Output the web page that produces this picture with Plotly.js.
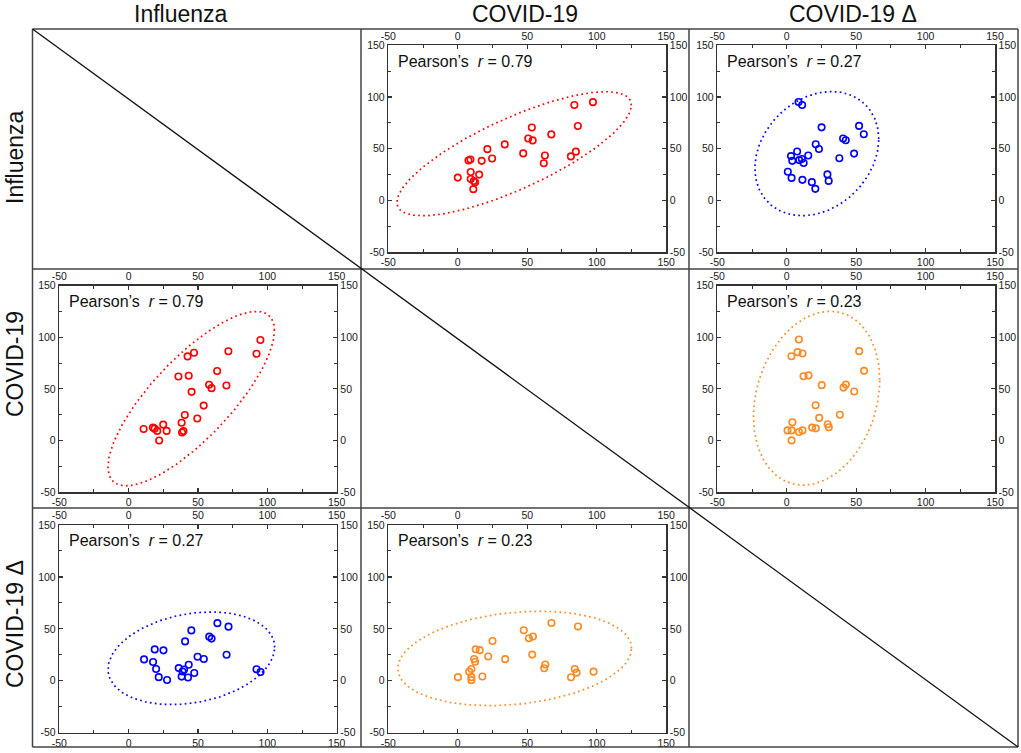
<!DOCTYPE html>
<html><head><meta charset="utf-8">
<script src="https://cdn.plot.ly/plotly-3.0.1.min.js"></script>
<style>html,body{margin:0;padding:0;background:#fff}#chart{width:1021px;height:753px}</style>
</head><body><div id="chart"></div>
<script>
// ---- data ----
const variableNames = ['Influenza', 'COVID-19', 'COVID-19 Δ'];

// Pair Influenza vs COVID-19
const pairIC_covid     = [0, 7.7, 9.1, 9.3, 9.3, 12.5, 11.5, 11.2, 15.4, 17.2, 21.3, 24.7, 33.8, 47.1, 50.7, 53.3, 53.9, 61.9, 62.7, 67.3, 81.4, 83.9, 85.0, 86.4, 97.3];
const pairIC_influenza = [22, 38.5, 39.5, 27.4, 20.6, 17.5, 18.7, 10.8, 24.9, 38.2, 49.5, 40.5, 54.1, 45.4, 59.8, 70.5, 58.0, 35.9, 43.3, 63.8, 42.5, 92.2, 47.1, 71.9, 95.0];

// Pair Influenza vs COVID-19 Δ
const pairID_delta     = [3.5, 9.0, 10.9, 4.0, 0.8, 11.3, 18.1, 30.2, 20.6, 29.3, 23.2, 37.9, 20.9, 48.5, 40.6, 25.1, 42.5, 12.2, 15.5, 55.5, 3.1, 11.1, 7.5, 52.1, 8.5];
const pairID_influenza = [21.7, 38.9, 40.0, 38.2, 27.7, 19.8, 17.6, 18.8, 11.1, 25.1, 49.7, 40.7, 54.2, 45.2, 59.8, 70.6, 58.1, 36.1, 43.3, 64.0, 42.8, 92.2, 47.3, 72.0, 95.1];

// Pair COVID-19 vs COVID-19 Δ
const pairCD_covid = [0.1, 8.2, 9.8, 9.8, 9.8, 11.8, 12.5, 12.9, 15.8, 17.7, 21.9, 25.0, 34.1, 47.5, 51.2, 53.6, 54.1, 62.2, 63.0, 67.4, 81.5, 84.2, 85.5, 86.5, 97.7];
const pairCD_delta = [3.5, 8.8, 11.3, 3.5, 0.6, 21.0, 18.3, 30.3, 29.5, 4.1, 23.4, 38.3, 20.8, 48.6, 40.9, 25.2, 42.6, 12.1, 15.7, 55.7, 3.4, 11.4, 7.8, 52.2, 8.8];

const pearsonLabels = ['0.79', '0.27', '0.23'];   // IC, ID, CD
const tickValues = [-50, 0, 50, 100, 150];
const tickLabels = ['-50', '0', '50', '100', '150'];
const minorTickValues = [-25, 25, 75, 125];
const fCritical = 3.4221; // F(2, n-2) at 95 %, n = 25

// ---- geometry helpers ----
const W = 1021, H = 753;
const px = x => x / W;
const py = y => 1 - y / H;
const colDom = [[59.3, 336.7], [388.3, 666.2], [717.3, 995]];
const rowDom = [[45.3, 252], [285.5, 492.2], [525, 732.7]];

const RED = '#ff0000', BLUE = '#0000ff', ORANGE = '#ff8a24';

const panels = [
  {row: 0, col: 1, x: pairIC_covid,     y: pairIC_influenza, color: RED,    r: 0},
  {row: 0, col: 2, x: pairID_delta,     y: pairID_influenza, color: BLUE,   r: 1},
  {row: 1, col: 0, x: pairIC_influenza, y: pairIC_covid,     color: RED,    r: 0},
  {row: 1, col: 2, x: pairCD_delta,     y: pairCD_covid,     color: ORANGE, r: 2},
  {row: 2, col: 0, x: pairID_influenza, y: pairID_delta,     color: BLUE,   r: 1},
  {row: 2, col: 1, x: pairCD_covid,     y: pairCD_delta,     color: ORANGE, r: 2}
];

// 95% prediction ellipse computed from the data
function predictionEllipse(xs, ys) {
  const n = xs.length;
  const mx = xs.reduce((a, b) => a + b, 0) / n;
  const my = ys.reduce((a, b) => a + b, 0) / n;
  let sxx = 0, syy = 0, sxy = 0;
  for (let i = 0; i < n; i++) {
    sxx += (xs[i] - mx) ** 2; syy += (ys[i] - my) ** 2; sxy += (xs[i] - mx) * (ys[i] - my);
  }
  sxx /= (n - 1); syy /= (n - 1); sxy /= (n - 1);
  const k = Math.sqrt(2 * (n - 1) * (n + 1) / (n * (n - 2)) * fCritical);
  const a = Math.sqrt(sxx), b = sxy / a, c = Math.sqrt(Math.max(syy - b * b, 0));
  const ex = [], ey = [];
  for (let i = 0; i <= 160; i++) {
    const t = 2 * Math.PI * i / 160;
    ex.push(mx + k * a * Math.cos(t));
    ey.push(my + k * (b * Math.cos(t) + c * Math.sin(t)));
  }
  return {ex, ey};
}

const FONT = 'Arial, "Liberation Sans", sans-serif';
function axisBase(extra) {
  return Object.assign({
    range: [-50, 150], autorange: false, tickmode: 'array', tickvals: tickValues, ticktext: tickLabels,
    ticks: 'inside', ticklen: 4, tickwidth: 1.2, tickcolor: '#333',
    showline: true, linecolor: '#333', linewidth: 1.5, showgrid: false, zeroline: false, fixedrange: true,
    tickfont: {family: FONT, size: 10.5, color: '#1a1a1a'},
    minor: {tickvals: minorTickValues, ticks: 'inside', ticklen: 3, tickwidth: 1, tickcolor: '#333', showgrid: false}
  }, extra);
}
const axId = (p, n) => (n === 1 ? p : p + n);
const axKey = (p, n) => (n === 1 ? p + 'axis' : p + 'axis' + n);

const data = [];
const layout = {
  width: W, height: H, margin: {l: 0, r: 0, t: 0, b: 0},
  paper_bgcolor: '#fff', plot_bgcolor: 'rgba(0,0,0,0)', showlegend: false,
  annotations: [], shapes: []
};

panels.forEach((p, i) => {
  const b = 4 * i + 1, t = b + 1;
  const xb = axId('x', b), yb = axId('y', b), xt = axId('x', t), yt = axId('y', t);
  const xd = colDom[p.col].map(px);
  const yd = [py(rowDom[p.row][1]), py(rowDom[p.row][0])];
  layout[axKey('x', b)] = axisBase({domain: xd, anchor: yb, side: 'bottom'});
  layout[axKey('y', b)] = axisBase({domain: yd, anchor: xb, side: 'left'});
  layout[axKey('x', t)] = axisBase({overlaying: xb, anchor: yb, side: 'top'});
  layout[axKey('y', t)] = axisBase({overlaying: yb, anchor: xb, side: 'right'});

  const el = predictionEllipse(p.x, p.y);
  data.push({type: 'scatter', mode: 'lines', x: el.ex, y: el.ey, xaxis: xb, yaxis: yb,
    line: {color: p.color, width: 1.7, dash: '1.7px,3.3px'}, hoverinfo: 'skip'});
  data.push({type: 'scatter', mode: 'markers', x: p.x, y: p.y, xaxis: xb, yaxis: yb,
    marker: {symbol: 'circle-open', size: 6.5, color: p.color, line: {width: 1.6, color: p.color}}});
  data.push({type: 'scatter', x: [], y: [], xaxis: xt, yaxis: yb, hoverinfo: 'skip'});
  data.push({type: 'scatter', x: [], y: [], xaxis: xb, yaxis: yt, hoverinfo: 'skip'});

  layout.annotations.push({
    xref: xb + ' domain', yref: yb + ' domain', x: 0.027, y: 0.923, xanchor: 'left', yanchor: 'middle',
    text: 'Pearson’s\u00a0 <i>r</i> = ' + pearsonLabels[p.r], showarrow: false,
    font: {family: FONT, size: 16, color: '#111'}
  });
});

// column headers and row labels
const headerX = [180.5, 525, 853];
const rowLabelY = [157, 364, 624];
variableNames.forEach((name, i) => {
  layout.annotations.push({xref: 'paper', yref: 'paper', x: px(headerX[i]), y: py(14), xanchor: 'center', yanchor: 'middle',
    text: name, showarrow: false, font: {family: FONT, size: 23, color: '#111'}});
  layout.annotations.push({xref: 'paper', yref: 'paper', x: px(15), y: py(rowLabelY[i]), xanchor: 'center', yanchor: 'middle',
    text: name, textangle: -90, showarrow: false, font: {family: FONT, size: 23, color: '#111'}});
});

// grid frame
const gx = [32.5, 361, 689, 1018];
const gy = [29, 269, 508, 747];
const frameLine = {color: '#444', width: 1.5};
gx.forEach(x => layout.shapes.push({type: 'line', xref: 'paper', yref: 'paper', x0: px(x), x1: px(x), y0: py(gy[0]), y1: py(gy[3]), line: frameLine}));
gy.forEach(y => layout.shapes.push({type: 'line', xref: 'paper', yref: 'paper', x0: px(gx[0]), x1: px(gx[3]), y0: py(y), y1: py(y), line: frameLine}));
layout.shapes.push({type: 'line', xref: 'paper', yref: 'paper', x0: px(gx[0]), y0: py(gy[0]), x1: px(gx[3]), y1: py(gy[3]), line: {color: '#111', width: 1.3}});

Plotly.newPlot('chart', data, layout, {displayModeBar: false, staticPlot: true});
</script>
</body></html>
